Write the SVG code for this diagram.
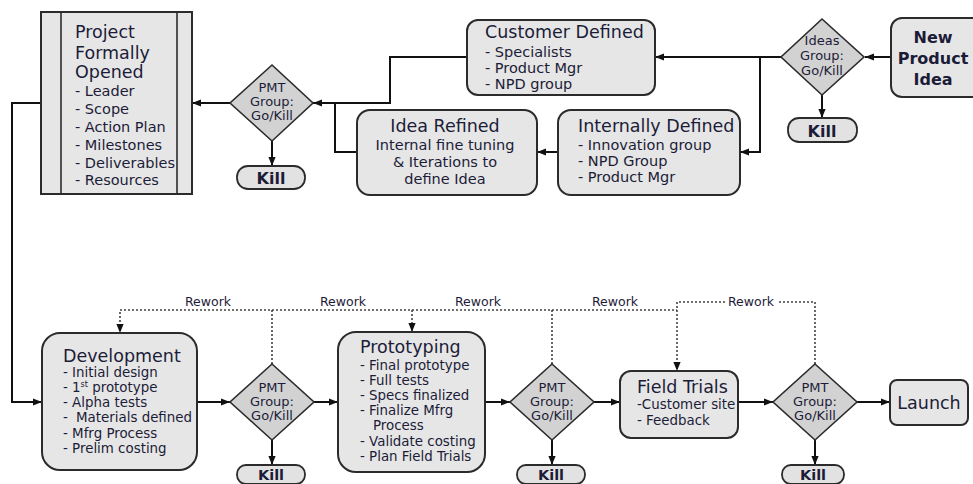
<svg xmlns="http://www.w3.org/2000/svg" width="973" height="484" viewBox="0 0 973 484">
<style>
.box{fill:#e6e6e6;stroke:#2b2b2b;stroke-width:2}
.dia{fill:#d2d2d2;stroke:#2b2b2b;stroke-width:1.6}
.kb{fill:#e2e2e2;stroke:#2b2b2b;stroke-width:1.8}
text{font-family:"DejaVu Sans","Liberation Sans",sans-serif;fill:#1c1c38}
.ti{font-size:17.5px}
.it{font-size:14.5px}
.sm{font-size:13.4px}
.dt{font-size:13px;text-anchor:middle}
.kill{font-size:16px;font-weight:bold;text-anchor:middle}
.kl{font-size:14.5px;font-weight:bold;text-anchor:middle}
.c{text-anchor:middle}
.b{font-weight:bold}
.con{fill:none;stroke:#111;stroke-width:2}
.rw{fill:none;stroke:#444;stroke-width:1.6;stroke-dasharray:2 2}
.rl{font-size:12.5px;text-anchor:middle}
</style>
<defs>
<marker id="ah" viewBox="0 0 10 10" refX="10" refY="5" markerWidth="9" markerHeight="9" markerUnits="userSpaceOnUse" orient="auto"><path d="M0,1 L10,5 L0,9 z" fill="#111"/></marker>
</defs>

<g id="connectors">
<path class="con" d="M891,57 H865" marker-end="url(#ah)"/>
<path class="con" d="M781,57 H655" marker-end="url(#ah)"/>
<path class="con" d="M760,57 V152 H740" marker-end="url(#ah)"/>
<path class="con" d="M822,95 V118" marker-end="url(#ah)"/>
<path class="con" d="M467,57 H390 V103 H313" marker-end="url(#ah)"/>
<path class="con" d="M558,152 H537" marker-end="url(#ah)"/>
<path class="con" d="M357,152 H335 V103"/>
<path class="con" d="M230,103 H192" marker-end="url(#ah)"/>
<path class="con" d="M272,141 V166" marker-end="url(#ah)"/>
<path class="con" d="M41,103 H12 V402 H42" marker-end="url(#ah)"/>
<path class="con" d="M197,402 H230" marker-end="url(#ah)"/>
<path class="con" d="M272,440 V465" marker-end="url(#ah)"/>
<path class="con" d="M314,402 H338" marker-end="url(#ah)"/>
<path class="con" d="M485,402 H510" marker-end="url(#ah)"/>
<path class="con" d="M552,440 V465" marker-end="url(#ah)"/>
<path class="con" d="M594,402 H620" marker-end="url(#ah)"/>
<path class="con" d="M738,402 H773" marker-end="url(#ah)"/>
<path class="con" d="M815,440 V465" marker-end="url(#ah)"/>
<path class="con" d="M857,402 H890" marker-end="url(#ah)"/>
<path class="rw" d="M272,364 V310 H120 V333" marker-end="url(#ah)"/>
<path class="rw" d="M552,364 V310 H272"/>
<path class="rw" d="M412,310 V332" marker-end="url(#ah)"/>
<path class="rw" d="M552,310 H677"/>
<path class="rw" d="M815,364 V302 H778 M725,302 H677 V371" marker-end="url(#ah)"/>
<text class="rl" x="208" y="306">Rework</text>
<text class="rl" x="343" y="306">Rework</text>
<text class="rl" x="478" y="306">Rework</text>
<text class="rl" x="615" y="306">Rework</text>
<text class="rl" x="751" y="306">Rework</text>
</g>

<g id="project-opened">
<rect class="box" x="41" y="12" width="151" height="182"/>
<line x1="61" y1="12" x2="61" y2="194" stroke="#2b2b2b" stroke-width="1.6"/>
<line x1="177" y1="12" x2="177" y2="194" stroke="#2b2b2b" stroke-width="1.6"/>
<text class="ti" x="75" y="38">Project</text>
<text class="ti" x="75" y="59">Formally</text>
<text class="ti" x="75" y="78">Opened</text>
<text class="it" x="75" y="96">- Leader</text>
<text class="it" x="75" y="114">- Scope</text>
<text class="it" x="75" y="132">- Action Plan</text>
<text class="it" x="75" y="150">- Milestones</text>
<text class="it" x="75" y="168">- Deliverables</text>
<text class="it" x="75" y="185">- Resources</text>
</g>

<g id="pmt-top">
<polygon class="dia" points="272,65 313,103 272,141 230,103"/>
<text class="dt" x="272" y="92">PMT</text>
<text class="dt" x="272" y="106">Group:</text>
<text class="dt" x="272" y="120">Go/Kill</text>
</g>
<g id="kill-top">
<rect class="kb" x="237" y="166" width="68" height="23" rx="11"/>
<text class="kill" x="271" y="184">Kill</text>
</g>

<g id="customer-defined">
<rect class="box" x="467" y="20" width="188" height="75" rx="11"/>
<text class="ti" x="485" y="38">Customer Defined</text>
<text class="it" x="485" y="57">- Specialists</text>
<text class="it" x="485" y="73">- Product Mgr</text>
<text class="it" x="485" y="89">- NPD group</text>
</g>

<g id="idea-refined">
<rect class="box" x="357" y="110" width="180" height="85" rx="13"/>
<text class="ti c" x="445" y="132">Idea Refined</text>
<text class="it c" x="445" y="150">Internal fine tuning</text>
<text class="it c" x="445" y="167">&amp; Iterations to</text>
<text class="it c" x="445" y="184">define Idea</text>
</g>

<g id="internally-defined">
<rect class="box" x="558" y="110" width="182" height="85" rx="13"/>
<text class="ti" x="578" y="132">Internally Defined</text>
<text class="it" x="578" y="150">- Innovation group</text>
<text class="it" x="578" y="166">- NPD Group</text>
<text class="it" x="578" y="182">- Product Mgr</text>
</g>

<g id="ideas-group">
<polygon class="dia" points="822,19 864,57 822,95 781,57"/>
<text class="dt" x="822" y="45">Ideas</text>
<text class="dt" x="822" y="60">Group:</text>
<text class="dt" x="822" y="75">Go/Kill</text>
</g>
<g id="kill-ideas">
<rect class="kb" x="788" y="118" width="69" height="24" rx="11"/>
<text class="kill" x="822" y="137">Kill</text>
</g>

<g id="new-product-idea">
<rect class="box" x="891" y="18" width="110" height="79" rx="11"/>
<text class="b c" font-size="16" x="933" y="43">New</text>
<text class="b c" font-size="16" x="933" y="64">Product</text>
<text class="b c" font-size="16" x="933" y="85">Idea</text>
</g>

<g id="development">
<rect class="box" x="42" y="333" width="155" height="137" rx="18"/>
<text class="ti" x="63" y="362">Development</text>
<text class="sm" x="63" y="377">- Initial design</text>
<text class="sm" x="63" y="392">- 1<tspan font-size="8" dy="-5">st</tspan><tspan dy="5"> prototype</tspan></text>
<text class="sm" x="63" y="407">- Alpha tests</text>
<text class="sm" x="63" y="422">-<tspan x="76">Materials defined</tspan></text>
<text class="sm" x="63" y="438">- Mfrg Process</text>
<text class="sm" x="63" y="453">- Prelim costing</text>
</g>

<g id="pmt-1">
<polygon class="dia" points="272,364 314,402 272,440 230,402"/>
<text class="dt" x="272" y="392">PMT</text>
<text class="dt" x="272" y="406">Group:</text>
<text class="dt" x="272" y="420">Go/Kill</text>
</g>
<g id="kill-1">
<rect class="kb" x="237" y="465" width="68" height="19" rx="9"/>
<text class="kl" x="271" y="480">Kill</text>
</g>

<g id="prototyping">
<rect class="box" x="338" y="332" width="147" height="140" rx="18"/>
<text class="ti" x="360" y="353">Prototyping</text>
<text class="sm" x="360" y="370">- Final prototype</text>
<text class="sm" x="360" y="385">- Full tests</text>
<text class="sm" x="360" y="400">- Specs finalized</text>
<text class="sm" x="360" y="415">- Finalize Mfrg</text>
<text class="sm" x="373" y="430">Process</text>
<text class="sm" x="360" y="446">- Validate costing</text>
<text class="sm" x="360" y="461">- Plan Field Trials</text>
</g>

<g id="pmt-2">
<polygon class="dia" points="552,364 594,402 552,440 510,402"/>
<text class="dt" x="552" y="392">PMT</text>
<text class="dt" x="552" y="406">Group:</text>
<text class="dt" x="552" y="420">Go/Kill</text>
</g>
<g id="kill-2">
<rect class="kb" x="517" y="465" width="68" height="19" rx="9"/>
<text class="kl" x="551" y="480">Kill</text>
</g>

<g id="field-trials">
<rect class="box" x="620" y="371" width="118" height="67" rx="11"/>
<text class="ti" x="637" y="393">Field Trials</text>
<text class="sm" x="637" y="409">-Customer site</text>
<text class="sm" x="637" y="425">- Feedback</text>
</g>

<g id="pmt-3">
<polygon class="dia" points="815,364 857,402 815,440 773,402"/>
<text class="dt" x="815" y="392">PMT</text>
<text class="dt" x="815" y="406">Group:</text>
<text class="dt" x="815" y="420">Go/Kill</text>
</g>
<g id="kill-3">
<rect class="kb" x="782" y="465" width="62" height="19" rx="9"/>
<text class="kl" x="813" y="480">Kill</text>
</g>

<g id="launch">
<rect class="box" x="890" y="380" width="78" height="45" rx="7"/>
<text class="ti c" x="929" y="409">Launch</text>
</g>
</svg>
